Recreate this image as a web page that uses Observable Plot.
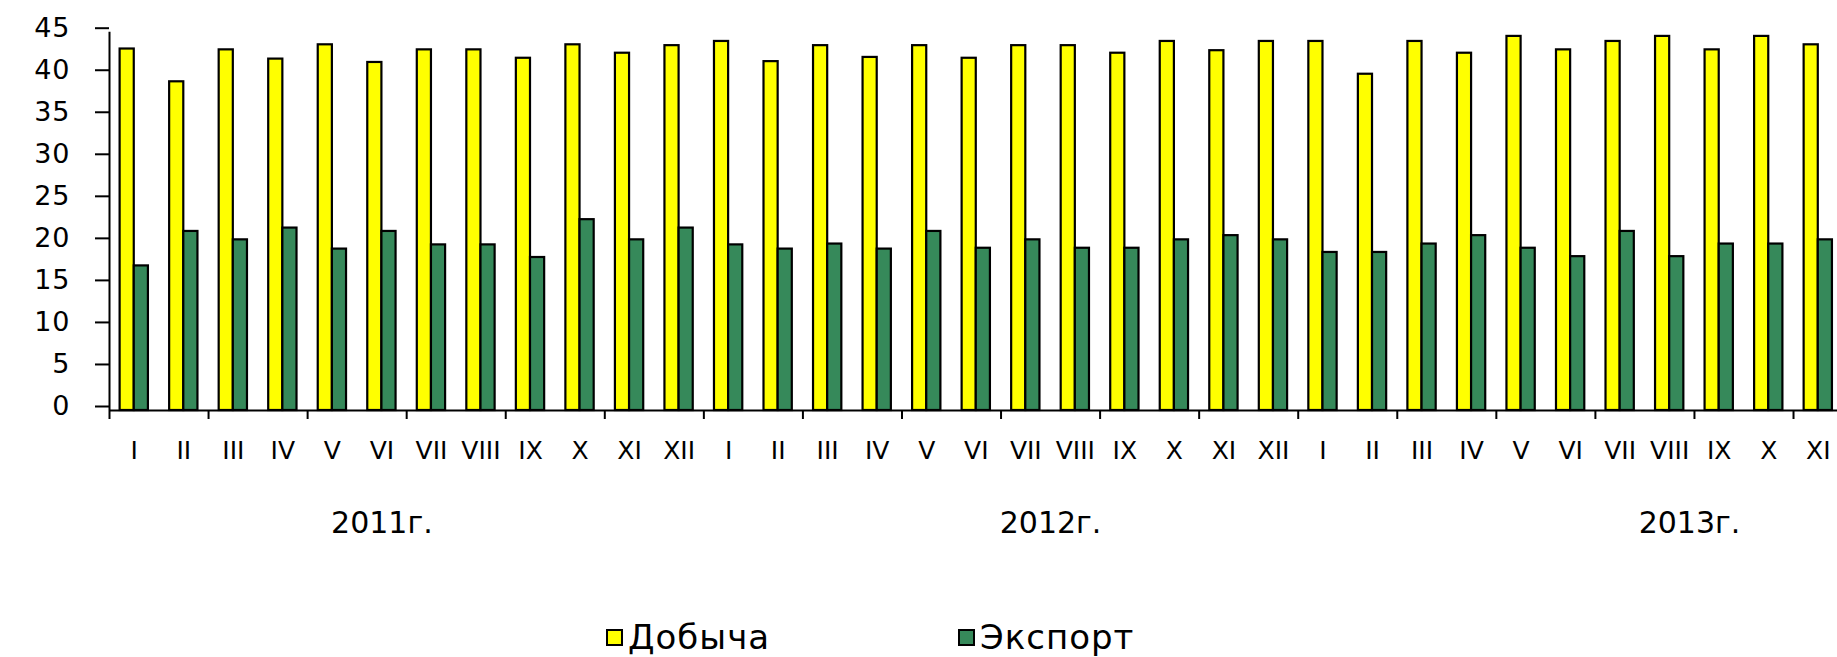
<!DOCTYPE html>
<html>
<head>
<meta charset="utf-8">
<script src="https://cdn.jsdelivr.net/npm/d3@7"></script>
<script src="https://cdn.jsdelivr.net/npm/@observablehq/plot@0.6"></script>
<style>
  html, body { margin: 0; padding: 0; background: #fff; overflow: hidden; }
  body { width: 1837px; height: 657px; font-family: "DejaVu Sans", sans-serif; }
  #chart svg { display: block; overflow: hidden; }
  #legend { position: relative; height: 57px; }
  .item { position: absolute; top: 20px; display: flex; align-items: center; color: #000; }
  .sw { width: 13px; height: 13px; border: 2px solid #000; margin-right: 5px; }
  .lt { display: inline-block; font-size: 34px; line-height: 1; letter-spacing: 1px; }
</style>
</head>
<body>
<div id="chart"></div>
<div id="legend"></div>
<script>
// ---- data ----
const monthLabels = [
  "I","II","III","IV","V","VI","VII","VIII","IX","X","XI","XII",
  "I","II","III","IV","V","VI","VII","VIII","IX","X","XI","XII",
  "I","II","III","IV","V","VI","VII","VIII","IX","X","XI"
];
const years = ["2011г.", "2012г.", "2013г."];
const yearLabelAt = [5.5, 19, 31.9]; // category position of each year label
const seriesNames = ["Добыча", "Экспорт"];
const dobycha = [
  43.0, 39.1, 42.9, 41.8, 43.5, 41.4, 42.9, 42.9, 41.9, 43.5, 42.5, 43.4,
  43.9, 41.5, 43.4, 42.0, 43.4, 41.9, 43.4, 43.4, 42.5, 43.9, 42.8, 43.9,
  43.9, 40.0, 43.9, 42.5, 44.5, 42.9, 43.9, 44.5, 42.9, 44.5, 43.5
];
const eksport = [
  17.2, 21.3, 20.3, 21.7, 19.2, 21.3, 19.7, 19.7, 18.2, 22.7, 20.3, 21.7,
  19.7, 19.2, 19.8, 19.2, 21.3, 19.3, 20.3, 19.3, 19.3, 20.3, 20.8, 20.3,
  18.8, 18.8, 19.8, 20.8, 19.3, 18.3, 21.3, 18.3, 19.8, 19.8, 20.3
];
const yTicks = [0, 5, 10, 15, 20, 25, 30, 35, 40, 45];

// ---- layout ----
const colors = ["#ffff00", "#36895a"];
const W = 49.53;          // pixel width of one month group
const x0 = 109;           // x of the value axis
const gap = 1.5;          // Excel-like gap width (150%)
const barFrac = 1 / (2 + gap);
const off = gap / 2 * barFrac;

const rows = monthLabels.map((m, i) => ({i, m, d: dobycha[i], e: eksport[i]}));
const yearRows = years.map((y, k) => ({y, at: yearLabelAt[k]}));

const svg = Plot.plot({
  width: 1837,
  height: 600,
  marginLeft: x0,
  marginRight: 0,
  marginTop: 31.7,
  marginBottom: 190,
  x: {domain: [0, monthLabels.length], range: [x0, x0 + monthLabels.length * W], axis: null},
  y: {domain: [0, 45], range: [410, 31.7], axis: null},
  style: {fontFamily: "'DejaVu Sans', sans-serif", background: "white", color: "black", overflow: "hidden"},
  marks: [
    Plot.rectY(rows, {x1: d => d.i + off, x2: d => d.i + off + barFrac, y1: 0, y2: "d",
      fill: colors[0], stroke: "black", strokeWidth: 2.2}),
    Plot.rectY(rows, {x1: d => d.i + off + barFrac, x2: d => d.i + off + 2 * barFrac, y1: 0, y2: "e",
      fill: colors[1], stroke: "black", strokeWidth: 2.2}),
    Plot.ruleX([0], {y1: 0, y2: 45, stroke: "black", strokeWidth: 2}),
    Plot.ruleY([0], {x1: 0, x2: monthLabels.length, stroke: "black", strokeWidth: 2}),
    Plot.axisY(yTicks, {tickSize: 14, tickPadding: 25, fontSize: 27, dy: -4, label: null,
      stroke: "black", strokeWidth: 2, fill: "black"}),
    Plot.axisX(d3.range(0, monthLabels.length, 2), {tickSize: 9, tickFormat: () => "", label: null,
      stroke: "black", strokeWidth: 2}),
    Plot.text(rows, {x: d => d.i + 0.5, frameAnchor: "bottom", text: "m", dy: 48, fontSize: 25,
      fill: "black", ariaLabel: "months"}),
    Plot.text(yearRows, {x: "at", frameAnchor: "bottom", text: "y", dy: 122, fontSize: 30,
      fill: "black", ariaLabel: "years"})
  ]
});
document.getElementById("chart").appendChild(svg);

// letter spacing, like the widened original
const sel = d3.select(svg);
sel.selectAll('g[aria-label="y-axis tick label"] text').style("letter-spacing", "1px");
sel.selectAll('g[aria-label="months"] text').style("letter-spacing", "1px");
sel.selectAll('g[aria-label="years"] text').style("letter-spacing", "2px");

// ---- legend ----
const legend = document.getElementById("legend");
const legendLeft = [606, 958];
seriesNames.forEach((name, k) => {
  const it = document.createElement("div");
  it.className = "item";
  it.style.left = legendLeft[k] + "px";
  const sw = document.createElement("div");
  sw.className = "sw";
  sw.style.background = colors[k];
  const tx = document.createElement("span");
  tx.className = "lt";
  tx.textContent = name;
  it.appendChild(sw);
  it.appendChild(tx);
  legend.appendChild(it);
});
</script>
</body>
</html>
